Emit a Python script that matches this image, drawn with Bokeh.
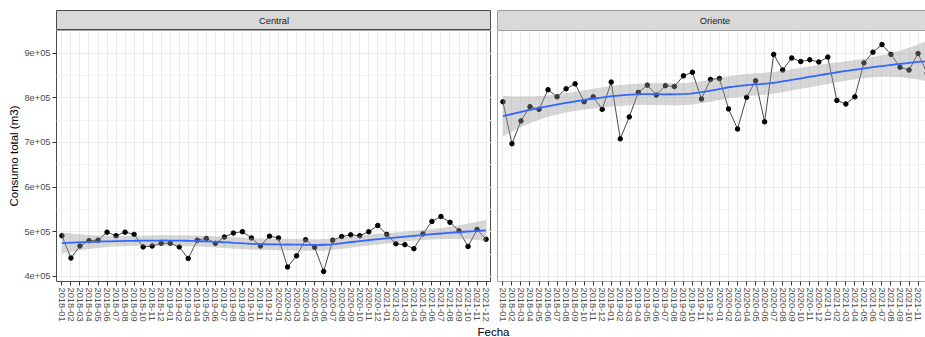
import numpy as np
from bokeh.plotting import figure
from bokeh.layouts import row, column
from bokeh.models import Range1d, FixedTicker, Span, Label, ColumnDataSource
from bokeh.core.properties import value
from bokeh.embed import file_html
from bokeh.resources import INLINE

# ---------------------------------------------------------------- data
months = [
    "2018-01", "2018-02", "2018-03", "2018-04", "2018-05", "2018-06",
    "2018-07", "2018-08", "2018-09", "2018-10", "2018-11", "2018-12",
    "2019-01", "2019-02", "2019-03", "2019-04", "2019-05", "2019-06",
    "2019-07", "2019-08", "2019-09", "2019-10", "2019-11", "2019-12",
    "2020-01", "2020-02", "2020-03", "2020-04", "2020-05", "2020-06",
    "2020-07", "2020-08", "2020-09", "2020-10", "2020-11", "2020-12",
    "2021-01", "2021-02", "2021-03", "2021-04", "2021-05", "2021-06",
    "2021-07", "2021-08", "2021-09", "2021-10", "2021-11", "2021-12",
]

central = [
    491000, 441000, 468000, 480000, 481000, 499000, 491000, 499000, 494000, 466000, 468000, 474000,
    474000, 466000, 440000, 481000, 485000, 474000, 488000, 497000, 500000, 486000, 468000, 490000,
    486000, 421000, 446000, 482000, 465000, 411000, 481000, 489000, 493000, 491000, 500000, 514000,
    494000, 473000, 471000, 462000, 495000, 523000, 534000, 521000, 502000, 467000, 505000, 483000,
]

oriente = [
    791000, 697000, 748000, 780000, 774000, 818000, 802000, 820000, 831000, 791000, 802000, 774000,
    835000, 708000, 757000, 812000, 828000, 806000, 827000, 825000, 849000, 857000, 797000, 841000,
    843000, 775000, 730000, 801000, 838000, 746000, 897000, 862000, 889000, 881000, 885000, 880000,
    891000, 794000, 786000, 802000, 878000, 902000, 919000, 897000, 868000, 862000, 899000, 855000,
]

y_ticks = [400000, 500000, 600000, 700000, 800000, 900000]
y_tick_labels = ["4e+05", "5e+05", "6e+05", "7e+05", "8e+05", "9e+05"]
y_minor = [450000, 550000, 650000, 750000, 850000, 950000]

panels = ["Central", "Oriente"]

# ---------------------------------------------------------------- loess (degree 2, span 0.75) with 95% band
def loess_band(xv, yv, xs, span=0.75):
    xv = np.asarray(xv, float)
    yv = np.asarray(yv, float)
    n = len(xv)
    q = int(np.floor(n * span))

    def weights_row(x0):
        d = np.abs(xv - x0)
        h = np.sort(d)[q - 1]
        u = np.clip(d / h, 0, 1)
        w = (1 - u ** 3) ** 3
        X = np.column_stack([np.ones(n), xv - x0, (xv - x0) ** 2])
        A = X.T @ (w[:, None] * X)
        return np.linalg.solve(A, (X * w[:, None]).T)[0]

    L = np.array([weights_row(x0) for x0 in xv])
    res = yv - L @ yv
    M = np.eye(n) - L
    MM = M.T @ M
    d1 = np.trace(MM)
    d2 = np.trace(MM @ MM)
    s = np.sqrt(np.sum(res ** 2) / d1)
    df = d1 ** 2 / d2
    z = 1.959963985
    g1 = (z ** 3 + z) / 4
    g2 = (5 * z ** 5 + 16 * z ** 3 + 3 * z) / 96
    g3 = (3 * z ** 7 + 19 * z ** 5 + 17 * z ** 3 - 15 * z) / 384
    t = z + g1 / df + g2 / df ** 2 + g3 / df ** 3
    Ls = np.array([weights_row(x0) for x0 in xs])
    fit = Ls @ yv
    se = s * np.sqrt(np.sum(Ls ** 2, axis=1))
    return fit, fit - t * se, fit + t * se


# ---------------------------------------------------------------- styling
FONT = value("Liberation Sans")
BORDER = "#4a4a4a"
GRID = "#EBEBEB"
GRID_MINOR = "#F3F3F3"
TICK_TEXT = "#4D4D4D"

idx = np.arange(len(months))
xs_smooth = np.linspace(0, len(months) - 1, 80)

Y_LO, Y_HI = 388500, 950500
PAD = 0.6
LEFT_FRAME = 435          # pixel width of a full panel
RIGHT_FRAME = 428         # visible part of the second panel
units = len(months) - 1 + 2 * PAD
x_full = (-PAD, len(months) - 1 + PAD)
x_cut = (-PAD, -PAD + units * RIGHT_FRAME / LEFT_FRAME)


def strip(title, xr, width, left_border, draw_outline):
    s = figure(width=width, height=30, x_range=Range1d(*xr), y_range=Range1d(0, 1),
               toolbar_location=None, output_backend="svg",
               min_border_left=left_border, min_border_right=0,
               min_border_top=10, min_border_bottom=0)
    s.axis.visible = False
    s.grid.visible = False
    s.background_fill_color = "#D9D9D9"
    s.border_fill_color = "white"
    if draw_outline:
        s.outline_line_color = BORDER
        s.outline_line_width = 1
    else:
        s.outline_line_color = None
        s.add_layout(Span(location=xr[0], dimension="height", line_color=BORDER, line_width=1))
        s.add_layout(Span(location=0, dimension="width", line_color=BORDER, line_width=1))
        s.add_layout(Span(location=1, dimension="width", line_color=BORDER, line_width=1))
    s.text(x=[(len(months) - 1) / 2], y=[0.5], text=[title], text_font=FONT,
           text_font_size="9.3px", text_color="#1A1A1A",
           text_align="center", text_baseline="middle")
    return s


def panel(values, xr, width, left_border, show_y, draw_outline):
    p = figure(width=width, height=294, x_range=Range1d(*xr), y_range=Range1d(Y_LO, Y_HI),
               toolbar_location=None, output_backend="svg",
               min_border_left=left_border, min_border_right=0,
               min_border_top=0, min_border_bottom=41)
    p.background_fill_color = "white"
    p.border_fill_color = "white"

    # x axis: one tick per month
    p.xaxis.ticker = FixedTicker(ticks=list(idx))
    p.xaxis.major_label_overrides = {int(i): m for i, m in zip(idx, months)}
    p.xaxis.major_label_orientation = "vertical"
    p.xaxis.minor_tick_line_color = None
    p.xaxis.axis_line_color = None
    p.xaxis.major_tick_line_color = "#333333"
    p.xaxis.major_tick_out = 4
    p.xaxis.major_tick_in = 0
    p.xaxis.major_label_standoff = 2
    p.xaxis.major_label_text_font = "Liberation Sans"
    p.xaxis.major_label_text_font_size = "9.3px"
    p.xaxis.major_label_text_color = TICK_TEXT

    # y axis
    p.yaxis.ticker = FixedTicker(ticks=y_ticks, minor_ticks=y_minor)
    p.yaxis.major_label_overrides = dict(zip(y_ticks, y_tick_labels))
    p.yaxis.minor_tick_line_color = None
    p.yaxis.axis_line_color = None
    if show_y:
        p.yaxis.major_tick_line_color = "#333333"
        p.yaxis.major_tick_out = 4
        p.yaxis.major_tick_in = 0
        p.yaxis.major_label_standoff = 2
        p.yaxis.major_label_text_font = "Liberation Sans"
        p.yaxis.major_label_text_font_size = "9.3px"
        p.yaxis.major_label_text_color = TICK_TEXT
        p.yaxis.axis_label = "Consumo total (m3)"
        p.yaxis.axis_label_text_font = "Liberation Sans"
        p.yaxis.axis_label_text_font_size = "11.5px"
        p.yaxis.axis_label_text_font_style = "normal"
        p.yaxis.axis_label_text_color = "black"
        p.yaxis.axis_label_standoff = 1
    else:
        p.yaxis.visible = False

    p.xgrid.grid_line_color = GRID
    p.xgrid.grid_line_width = 1
    p.ygrid.grid_line_color = GRID
    p.ygrid.grid_line_width = 1
    p.ygrid.minor_grid_line_color = GRID_MINOR
    p.ygrid.minor_grid_line_width = 1

    if draw_outline:
        p.outline_line_color = BORDER
        p.outline_line_width = 1
    else:
        p.outline_line_color = None
        p.add_layout(Span(location=xr[0], dimension="height", line_color=BORDER, line_width=1))
        p.add_layout(Span(location=Y_LO, dimension="width", line_color=BORDER, line_width=1))
        p.add_layout(Span(location=Y_HI, dimension="width", line_color=BORDER, line_width=1))

    src = ColumnDataSource(dict(x=idx, y=values))
    p.line("x", "y", source=src, line_color="#333333", line_width=0.9)
    p.scatter("x", "y", source=src, size=4.5, fill_color="black", line_color="black")

    fit, lo, hi = loess_band(idx, values, xs_smooth)
    p.varea(x=xs_smooth, y1=lo, y2=hi, fill_color="#999999", fill_alpha=0.4)
    p.line(x=xs_smooth, y=fit, line_color="#3366FF", line_width=1.8)
    return p


strip_c = strip(panels[0], x_full, 491, 56, True)
strip_o = strip(panels[1], x_cut, 434, 6, False)
panel_c = panel(central, x_full, 491, 56, True, True)
panel_o = panel(oriente, x_cut, 434, 6, False, False)

# shared x title
foot = figure(width=925, height=13, x_range=Range1d(0, 925), y_range=Range1d(0, 13),
              toolbar_location=None, output_backend="svg",
              min_border_left=0, min_border_right=0, min_border_top=0, min_border_bottom=0)
foot.axis.visible = False
foot.grid.visible = False
foot.outline_line_color = None
foot.add_layout(Label(x=493, y=6, x_units="screen", y_units="screen", text="Fecha",
                      text_font="Liberation Sans", text_font_size="11.5px",
                      text_color="black", text_align="center", text_baseline="middle"))

layout = column(row(column(strip_c, panel_c), column(strip_o, panel_o)), foot)

open("out.html", "w").write(file_html(layout, INLINE))
